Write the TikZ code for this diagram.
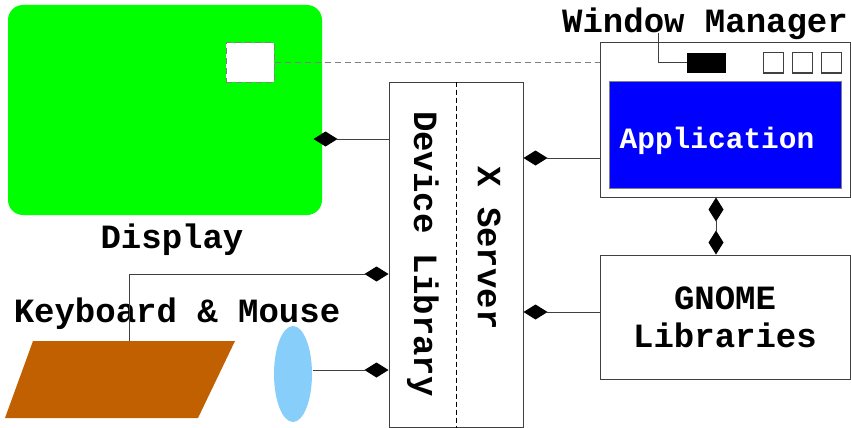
\documentclass[tikz,border=0pt]{standalone}
\usepackage{fontspec}
\setmonofont{Liberation Mono}
\usetikzlibrary{arrows.meta,shapes.geometric}
\definecolor{screengreen}{RGB}{0,255,0}
\definecolor{kbdbrown}{RGB}{192,96,0}
\definecolor{mouseblue}{RGB}{135,206,250}
\definecolor{appblue}{RGB}{0,0,255}
\tikzset{
  lbl/.style={font=\ttfamily\bfseries\fontsize{34}{38}\selectfont},
  box/.style={draw=black!75, line width=1pt, inner sep=0pt},
  link/.style={draw=black!75, line width=1pt, -{Diamond[length=24pt,width=15pt,black]}},
  dlink/.style={draw=black!75, line width=1pt, {Diamond[length=24pt,width=15pt,black]}-{Diamond[length=24pt,width=15pt,black]}},
}
\begin{document}
\begin{tikzpicture}[x=1pt, y=-1pt, line width=1pt]
\useasboundingbox (0,0) rectangle (851,428);
% display
\node[fill=screengreen, rounded corners=15pt, minimum width=314pt, minimum height=210pt, inner sep=0pt] (display) at (165,110) {};
\node[fill=white, draw=black!50, dashed, dash pattern=on 6pt off 4pt, minimum width=48pt, minimum height=39pt, inner sep=0pt] (shadow) at (250,62.5) {};
\node[lbl, anchor=base] at (172,248) {Display};

% window manager
\node[box, minimum width=250pt, minimum height=154pt] (wm) at (725,120) {};
\node[fill=black, minimum width=39pt, minimum height=20pt, inner sep=0pt] (title) at (706.5,63) {};
\foreach \x/\n in {773/min, 802/max, 831/close}
  \node[box, minimum width=20pt, minimum height=20pt] (\n) at (\x,63) {};
\node[box, draw=black!50, fill=appblue, minimum width=232pt, minimum height=107pt] (app) at (725,134.5) {};
\node[lbl, font=\ttfamily\bfseries\fontsize{29.5}{32}\selectfont, text=white, anchor=base] at (717,148) {Application};
\node[lbl, anchor=base] (wmlabel) at (705,33) {Window Manager};
\draw[black!75] (wmlabel.base -| 658,0) |- (title.west);
\draw[black!50, dash pattern=on 6pt off 4pt] (shadow.east) -- (wm.west |- shadow.east);

% x server
\node[box, minimum width=134pt, minimum height=345pt] (xsrv) at (456,254.5) {};
\draw[black, dash pattern=on 5pt off 3pt] (xsrv.north) -- (xsrv.south);
\node[lbl, rotate=-90] at (423,254) {Device Library};
\node[lbl, rotate=-90] at (489,248) {X Server};

% gnome
\node[box, minimum width=250pt, minimum height=124pt, lbl, align=center] (gnome) at (725,317) {GNOME\\Libraries};

% keyboard & mouse
\fill[kbdbrown] (33,341) -- (235,341) -- (198,418) -- (5,418) -- cycle;
\coordinate (kbd) at (129,341);
\node[ellipse, fill=mouseblue, minimum width=38pt, minimum height=96pt, inner sep=0pt] (mouse) at (293,374) {};
\node[lbl, anchor=base] at (177,322) {Keyboard \& Mouse};

% connectors
\draw[link, shorten >=-9pt] (xsrv.west |- 0,139) -- (display.east |- 0,139);
\draw[link] (wm.west |- 0,158) -- (xsrv.east |- 0,158);
\draw[link] (gnome.west |- 0,312) -- (xsrv.east |- 0,312);
\draw[dlink] (wm.south -| 716,0) -- (gnome.north -| 716,0);
\draw[link] (kbd) |- (xsrv.west |- 0,274);
\draw[link] (mouse.east |- 0,370) -- (xsrv.west |- 0,370);
\end{tikzpicture}
\end{document}
